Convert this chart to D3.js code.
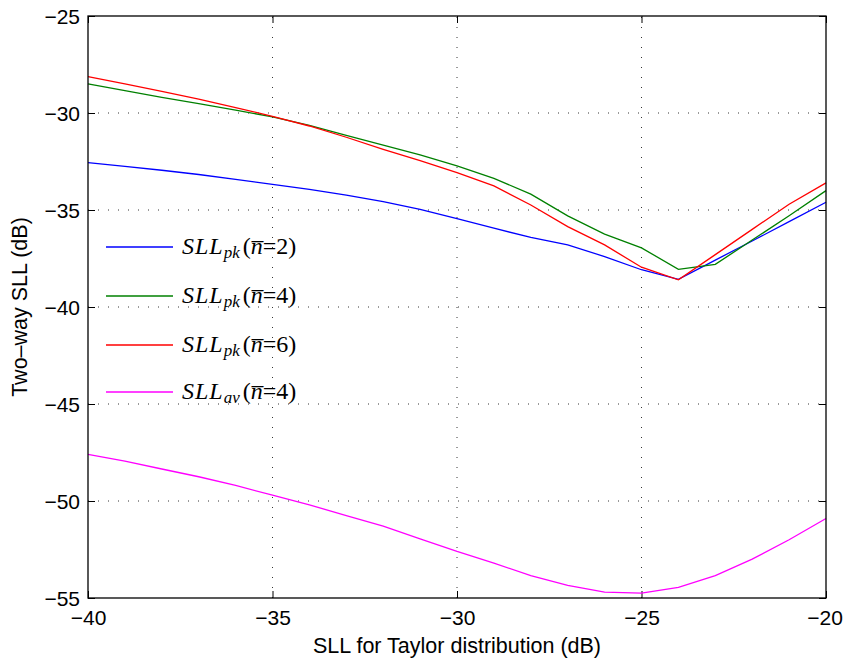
<!DOCTYPE html>
<html>
<head>
<meta charset="utf-8">
<script src="https://cdn.jsdelivr.net/npm/d3@7"></script>
<style>
  html, body { margin: 0; padding: 0; background: #fff; }
  svg { display: block; }
</style>
</head>
<body>
<svg id="chart" width="843" height="661"></svg>
<script>
// ---- data ----
const xValues = [-40, -39, -38, -37, -36, -35, -34, -33, -32, -31, -30, -29, -28, -27, -26, -25, -24, -23, -22, -21, -20];
const sllPkN2 = [-32.56, -32.75, -32.95, -33.17, -33.42, -33.68, -33.94, -34.23, -34.57, -34.97, -35.45, -35.94, -36.41, -36.8, -37.4, -38.08, -38.57, -37.58, -36.6, -35.6, -34.6];
const sllPkN4 = [-28.5, -28.85, -29.2, -29.52, -29.85, -30.2, -30.64, -31.15, -31.65, -32.16, -32.73, -33.37, -34.18, -35.3, -36.24, -36.95, -38.06, -37.8, -36.55, -35.3, -34.0];
const sllPkN6 = [-28.13, -28.5, -28.88, -29.28, -29.72, -30.17, -30.67, -31.25, -31.87, -32.46, -33.07, -33.76, -34.74, -35.86, -36.8, -37.95, -38.6, -37.3, -36.0, -34.7, -33.6];
const sllAvN4 = [-47.6, -47.95, -48.35, -48.75, -49.2, -49.7, -50.2, -50.75, -51.3, -51.95, -52.6, -53.2, -53.85, -54.35, -54.7, -54.75, -54.45, -53.85, -53.0, -52.0, -50.9];
const xTicks = [-40, -35, -30, -25, -20];
const yTicks = [-25, -30, -35, -40, -45, -50, -55];
const seriesNames = [
  {sub: "pk", n: "2"},
  {sub: "pk", n: "4"},
  {sub: "pk", n: "6"},
  {sub: "av", n: "4"}
];
const seriesColors = ["#0000ff", "#008000", "#ff0000", "#ff00ff"];
const xLabel = "SLL for Taylor distribution (dB)";
const yLabel = "Two\u2013way SLL (dB)";

// ---- layout ----
const L = 88, R = 826, T = 16, B = 598;
const sans = "'Liberation Sans', Arial, Helvetica, sans-serif";
const serif = "'Liberation Serif', 'DejaVu Serif', serif";
const svg = d3.select("#chart");
const x = d3.scaleLinear().domain([-40, -20]).range([L, R]);
const y = d3.scaleLinear().domain([-55, -25]).range([B, T]);
const fmt = d => (d < 0 ? "\u2212" + Math.abs(d) : String(d));

// grid
const grid = svg.append("g").attr("stroke", "#000").attr("stroke-width", 0.8)
  .attr("stroke-dasharray", "1,9").attr("fill", "none");
xTicks.slice(1, -1).forEach(t => grid.append("line")
  .attr("x1", x(t)).attr("x2", x(t)).attr("y1", B).attr("y2", T));
yTicks.slice(1, -1).forEach(t => grid.append("line")
  .attr("x1", L).attr("x2", R).attr("y1", y(t)).attr("y2", y(t)));

// axes (MATLAB style: inward ticks on all sides)
const tl = 7;
const axB = svg.append("g").attr("transform", `translate(0,${B})`)
  .call(d3.axisBottom(x).tickValues(xTicks).tickSizeInner(-tl).tickSizeOuter(0).tickPadding(12).tickFormat(fmt));
const axT = svg.append("g").attr("transform", `translate(0,${T})`)
  .call(d3.axisTop(x).tickValues(xTicks).tickSizeInner(-tl).tickSizeOuter(0).tickFormat(""));
const axL = svg.append("g").attr("transform", `translate(${L},0)`)
  .call(d3.axisLeft(y).tickValues(yTicks).tickSizeInner(-tl).tickSizeOuter(0).tickPadding(8).tickFormat(fmt));
const axR = svg.append("g").attr("transform", `translate(${R},0)`)
  .call(d3.axisRight(y).tickValues(yTicks).tickSizeInner(-tl).tickSizeOuter(0).tickFormat(""));
[axB, axT, axL, axR].forEach(a => {
  a.select(".domain").remove();
  a.selectAll(".tick line").attr("stroke", "#000").attr("stroke-width", 1);
  a.selectAll("text").style("font-size", "21px").attr("fill", "#000")
    .style("font-family", sans);
});
axL.selectAll("text").attr("dy", "0.36em");
axB.selectAll("text").attr("dy", "0.71em");
// keep the last x tick label inside the picture
axB.selectAll(".tick text").filter(d => d === -20).attr("dx", -1.5);

// series lines
const allSeries = [sllPkN2, sllPkN4, sllPkN6, sllAvN4];
const line = d3.line().x((d, i) => x(xValues[i])).y(d => y(d));
allSeries.forEach((s, k) => {
  svg.append("path").datum(s).attr("d", line).attr("fill", "none")
    .attr("stroke", seriesColors[k]).attr("stroke-width", 1.3);
});

// frame
svg.append("rect").attr("x", L).attr("y", T).attr("width", R - L).attr("height", B - T)
  .attr("fill", "none").attr("stroke", "#000").attr("stroke-width", 1.3);

// axis labels
svg.append("text").attr("x", (L + R) / 2).attr("y", 653).attr("text-anchor", "middle")
  .style("font-family", sans).style("font-size", "21.5px").attr("fill", "#000").text(xLabel);
svg.append("text").attr("transform", `translate(27,${(T + B) / 2}) rotate(-90)`)
  .attr("text-anchor", "middle").style("font-family", sans).style("font-size", "21.5px")
  .attr("fill", "#000").text(yLabel);

// legend (no box)
const legY = [247, 296, 345, 392];
const leg = svg.append("g");
seriesNames.forEach((s, k) => {
  leg.append("line").attr("x1", 106).attr("x2", 173).attr("y1", legY[k]).attr("y2", legY[k])
    .attr("stroke", seriesColors[k]).attr("stroke-width", 1.3);
  const t = leg.append("text").attr("x", 182).attr("y", legY[k] + 7)
    .style("font-family", serif).style("font-size", "24px").attr("fill", "#000");
  t.append("tspan").style("font-style", "italic").style("letter-spacing", "1px").text("SLL");
  t.append("tspan").style("font-style", "italic").style("font-size", "17px").attr("dy", 4).text(s.sub);
  t.append("tspan").attr("dy", -4).attr("dx", 3).text("(");
  t.append("tspan").style("font-style", "italic").text("n\u0305");
  t.append("tspan").text("=" + s.n + ")");
});
</script>
</body>
</html>
